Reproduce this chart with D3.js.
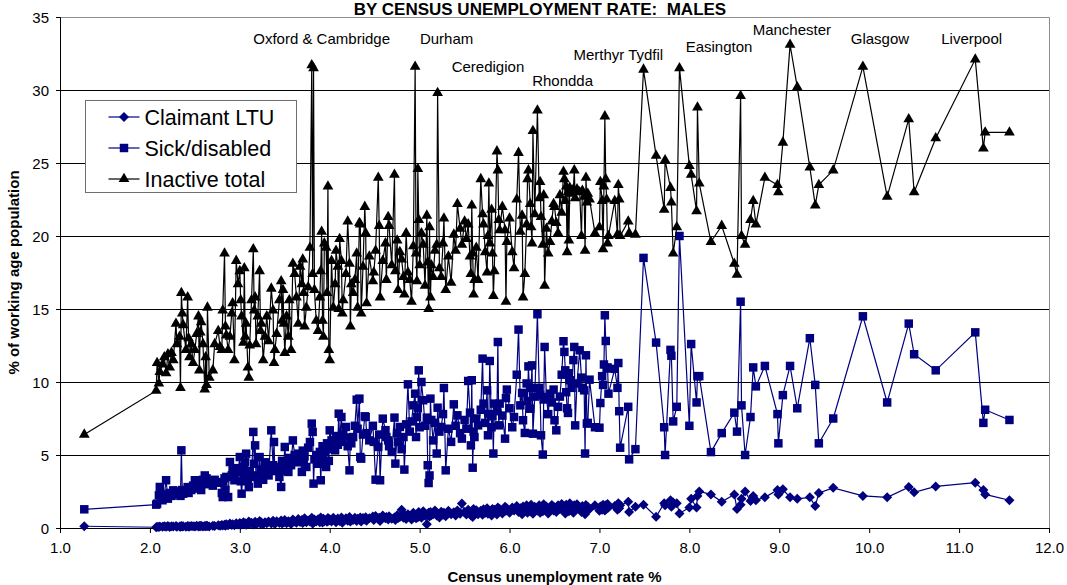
<!DOCTYPE html>
<html>
<head>
<meta charset="utf-8">
<script src="https://cdn.jsdelivr.net/npm/d3@7"></script>
<style>
  html, body { margin: 0; padding: 0; background: #fff; }
  svg { display: block; font-family: "Liberation Sans", Arial, sans-serif; }
</style>
</head>
<body>
<svg id="chart" width="1067" height="585"></svg>
<script>
// census unemployment rate, one value per district (sorted)
const unemp = [
  1.27, 2.07, 2.08, 2.10, 2.11, 2.14, 2.16, 2.18, 2.20, 2.22,
  2.24, 2.26, 2.29, 2.30, 2.33, 2.34, 2.35, 2.36, 2.37, 2.40,
  2.42, 2.43, 2.44, 2.46, 2.48, 2.50, 2.52, 2.54, 2.55, 2.56,
  2.57, 2.59, 2.61, 2.62, 2.63, 2.64, 2.66, 2.70, 2.72, 2.76,
  2.78, 2.80, 2.81, 2.83, 2.84, 2.85, 2.87, 2.89, 2.91, 2.92,
  2.94, 2.96, 2.98, 3.00, 3.01, 3.02, 3.04, 3.05, 3.06, 3.07,
  3.09, 3.10, 3.11, 3.13, 3.15, 3.16, 3.17, 3.18, 3.20, 3.22,
  3.23, 3.24, 3.26, 3.28, 3.30, 3.32, 3.35, 3.37, 3.38, 3.39,
  3.41, 3.44, 3.46, 3.47, 3.48, 3.49, 3.50, 3.52, 3.54, 3.55,
  3.57, 3.59, 3.61, 3.63, 3.65, 3.67, 3.69, 3.70, 3.71, 3.72,
  3.74, 3.76, 3.78, 3.80, 3.81, 3.82, 3.83, 3.85, 3.87, 3.89,
  3.90, 3.91, 3.92, 3.93, 3.94, 3.96, 3.97, 3.98, 3.99, 4.00,
  4.02, 4.04, 4.06, 4.07, 4.09, 4.10, 4.11, 4.13, 4.14, 4.15,
  4.18, 4.20, 4.22, 4.23, 4.24, 4.26, 4.28, 4.30, 4.31, 4.33,
  4.34, 4.35, 4.37, 4.39, 4.40, 4.41, 4.44, 4.48, 4.49, 4.51,
  4.54, 4.55, 4.56, 4.59, 4.62, 4.63, 4.65, 4.66, 4.69, 4.72,
  4.73, 4.75, 4.76, 4.78, 4.80, 4.82, 4.83, 4.85, 4.87, 4.89,
  4.91, 4.93, 4.95, 4.96, 4.97, 4.98, 4.99, 5.00, 5.02, 5.04,
  5.06, 5.08, 5.09, 5.10, 5.11, 5.12, 5.13, 5.15, 5.17, 5.19,
  5.20, 5.22, 5.24, 5.26, 5.27, 5.29, 5.32, 5.35, 5.38, 5.40,
  5.42, 5.45, 5.47, 5.50, 5.52, 5.54, 5.56, 5.57, 5.58, 5.59,
  5.60, 5.61, 5.63, 5.65, 5.68, 5.70, 5.71, 5.73, 5.75, 5.76,
  5.77, 5.78, 5.80, 5.81, 5.82, 5.83, 5.86, 5.87, 5.88, 5.89,
  5.92, 5.95, 5.96, 5.97, 6.00, 6.03, 6.05, 6.08, 6.10, 6.12,
  6.14, 6.15, 6.17, 6.19, 6.20, 6.21, 6.23, 6.24, 6.25, 6.26,
  6.28, 6.31, 6.33, 6.34, 6.35, 6.37, 6.38, 6.39, 6.41, 6.43,
  6.45, 6.47, 6.49, 6.50, 6.52, 6.54, 6.56, 6.58, 6.60, 6.61,
  6.62, 6.63, 6.64, 6.65, 6.66, 6.67, 6.69, 6.71, 6.72, 6.73,
  6.75, 6.78, 6.80, 6.81, 6.83, 6.84, 6.85, 6.86, 6.87, 6.89,
  6.95, 7.00, 7.01, 7.03, 7.04, 7.05, 7.06, 7.07, 7.08, 7.09,
  7.10, 7.17, 7.20, 7.21, 7.22, 7.23, 7.32, 7.33, 7.40, 7.49,
  7.63, 7.72, 7.73, 7.79, 7.80, 7.82, 7.86, 7.89, 8.00, 8.02,
  8.08, 8.09, 8.11, 8.24, 8.36, 8.50, 8.53, 8.57, 8.58, 8.62,
  8.68, 8.71, 8.74, 8.84, 8.98, 8.99, 9.04, 9.12, 9.20, 9.34,
  9.40, 9.44, 9.60, 9.93, 10.20, 10.44, 10.50, 10.74, 11.18, 11.27, 11.29, 11.56
];

const claimantLTU = [
  0.12, 0.05, 0.08, 0.06, 0.10, 0.09, 0.12, 0.08, 0.14, 0.07,
  0.12, 0.10, 0.13, 0.09, 0.11, 0.08, 0.14, 0.10, 0.12, 0.09,
  0.13, 0.11, 0.10, 0.14, 0.12, 0.11, 0.15, 0.10, 0.13, 0.12,
  0.16, 0.11, 0.14, 0.12, 0.15, 0.13, 0.10, 0.16, 0.14, 0.18,
  0.15, 0.20, 0.17, 0.22, 0.16, 0.25, 0.18, 0.30, 0.21, 0.26,
  0.19, 0.32, 0.24, 0.35, 0.20, 0.28, 0.40, 0.25, 0.33, 0.22,
  0.30, 0.45, 0.27, 0.36, 0.24, 0.31, 0.42, 0.26, 0.34, 0.48,
  0.29, 0.38, 0.25, 0.40, 0.33, 0.44, 0.30, 0.50, 0.36, 0.28,
  0.46, 0.34, 0.52, 0.30, 0.42, 0.38, 0.55, 0.33, 0.47, 0.40,
  0.28, 0.58, 0.45, 0.36, 0.62, 0.41, 0.55, 0.35, 0.48, 0.66,
  0.39, 0.52, 0.44, 0.70, 0.30, 0.36, 0.58, 0.45, 0.60, 0.40,
  0.72, 0.50, 0.38, 0.63, 0.47, 0.55, 0.42, 0.68, 0.50, 0.60,
  0.45, 0.70, 0.52, 0.40, 0.65, 0.55, 0.48, 0.72, 0.36, 0.58,
  0.66, 0.50, 0.75, 0.44, 0.62, 0.55, 0.70, 0.48, 0.64, 0.56,
  0.72, 0.45, 0.68, 0.58, 0.74, 0.50, 0.66, 0.78, 0.55, 0.82,
  0.62, 0.70, 0.48, 0.85, 0.66, 0.76, 0.58, 0.80, 0.64, 0.72,
  0.55, 0.88, 0.68, 0.75, 1.25, 0.70, 0.90, 0.62, 0.95, 0.78,
  0.58, 1.05, 0.82, 0.66, 0.92, 0.74, 1.10, 0.80, 0.70, 1.15,
  0.85, 0.25, 0.90, 1.05, 0.78, 1.10, 0.88, 0.95, 1.20, 0.85,
  1.00, 0.72, 1.12, 0.90, 1.05, 0.80, 1.18, 0.95, 1.08, 0.85,
  1.20, 0.98, 1.67, 1.10, 0.92, 1.25, 1.05, 0.88, 1.15, 0.75,
  1.30, 1.00, 1.22, 0.95, 1.18, 0.90, 1.28, 1.05, 1.35, 0.98,
  1.20, 1.10, 0.85, 1.30, 1.08, 1.25, 0.92, 1.40, 1.12, 1.30,
  1.00, 1.45, 1.18, 1.35, 1.05, 1.40, 1.20, 1.50, 1.10, 1.35,
  0.95, 1.48, 1.22, 1.55, 1.05, 1.40, 1.15, 1.60, 1.30, 0.98,
  1.45, 1.20, 1.55, 1.05, 1.38, 1.15, 1.62, 1.25, 1.48, 1.00,
  1.35, 1.58, 1.20, 1.42, 1.10, 1.55, 1.30, 1.65, 1.18, 1.45,
  1.00, 1.60, 1.25, 1.50, 1.15, 1.70, 1.35, 1.05, 1.55, 1.25,
  1.62, 1.40, 1.10, 1.50, 1.28, 0.95, 1.58, 1.20, 1.45, 1.30,
  1.55, 1.18, 1.48, 1.25, 1.60, 1.40, 1.20, 1.55, 1.32, 1.65,
  1.40, 1.50, 1.25, 1.70, 1.35, 1.55, 1.80, 1.10, 1.45, 1.60,
  0.77, 1.70, 1.55, 1.90, 1.45, 1.75, 1.70, 1.00, 1.40, 2.00,
  1.40, 2.20, 2.50, 2.30, 1.80, 2.30, 1.30, 1.60, 2.00, 2.50,
  1.85, 2.20, 1.90, 2.10, 2.60, 2.30, 2.65, 2.10, 2.00, 2.10,
  1.50, 2.40, 2.75, 2.20, 2.10, 2.80, 2.45, 2.85, 3.10, 2.60, 2.30, 1.90
];

const sickDisabled = [
  1.28, 1.6, 1.67, 2.24, 2.81, 1.9, 2.3, 3.27, 2.01, 2.4,
  2.2, 2.58, 2.5, 2.3, 2.45, 2.2, 5.32, 2.6, 2.35, 2.5,
  2.8, 2.4, 2.7, 2.6, 2.9, 3.27, 2.7, 3.0, 2.92, 3.1,
  2.6, 3.3, 3.6, 3.0, 3.4, 3.2, 3.15, 2.9, 3.3, 3.1,
  3.15, 2.4, 2.12, 3.4, 2.6, 3.5, 2.12, 4.52, 3.6, 3.95,
  3.27, 4.1, 3.8, 4.86, 3.2, 2.35, 4.2, 3.7, 4.5, 5.09,
  3.3, 2.8, 3.9, 3.5, 6.58, 4.4, 5.66, 3.6, 3.04, 4.86,
  4.0, 3.7, 3.3, 4.5, 4.06, 3.6, 6.69, 4.3, 5.89, 3.9,
  4.18, 3.5, 2.81, 4.6, 3.9, 4.4, 5.55, 4.1, 3.84, 4.8,
  4.3, 6.0, 5.0, 4.5, 5.09, 4.7, 3.84, 5.3, 4.6, 4.9,
  4.18, 5.5, 5.89, 7.15, 6.58, 3.04, 4.7, 5.0, 4.4, 5.21,
  3.27, 4.9, 5.6, 4.5, 5.2, 4.18, 5.8, 5.4, 4.6, 6.69,
  6.0, 5.5, 5.32, 6.3, 5.7, 7.83, 6.1, 7.6, 5.9, 6.4,
  6.92, 5.6, 3.95, 6.2, 5.8, 6.23, 7.0, 8.79, 6.8, 8.86,
  4.86, 4.75, 6.4, 7.65, 7.6, 6.5, 6.0, 7.0, 5.9, 3.31,
  5.55, 6.4, 3.27, 7.49, 6.7, 6.23, 6.0, 5.6, 5.21, 7.56,
  4.41, 6.5, 5.9, 6.92, 5.4, 6.23, 4.0, 7.1, 9.84, 6.6,
  7.3, 8.4, 9.2, 6.23, 7.6, 8.2, 10.8, 6.9, 10.0, 8.75,
  7.0, 7.56, 4.3, 3.08, 3.6, 8.86, 7.4, 6.0, 7.2, 5.1,
  8.24, 6.6, 6.92, 7.8, 9.59, 3.95, 6.8, 5.9, 8.47, 7.0,
  7.72, 6.5, 6.12, 7.4, 6.8, 10.07, 7.9, 5.66, 10.12, 4.13,
  6.6, 6.23, 7.5, 7.03, 8.1, 11.6, 8.52, 7.2, 9.43, 6.35,
  7.8, 11.44, 6.9, 7.65, 5.1, 8.52, 8.0, 12.74, 7.03, 8.52,
  7.7, 6.12, 8.9, 9.48, 8.2, 6.9, 7.6, 10.5, 13.59, 8.4,
  9.25, 7.38, 6.51, 9.9, 8.7, 11.07, 8.17, 9.6, 11.14, 6.46,
  9.0, 14.64, 9.6, 9.09, 6.35, 5.03, 8.8, 12.4, 8.97, 7.8,
  9.2, 8.6, 9.48, 7.38, 6.69, 8.3, 9.0, 10.5, 12.79, 12.06,
  10.8, 9.3, 8.2, 7.88, 10.6, 10.12, 9.6, 11.5, 12.4, 7.03,
  9.9, 12.17, 10.3, 9.6, 9.43, 5.1, 11.83, 7.15, 7.2, 10.16,
  6.9, 6.87, 8.56, 10.4, 9.8, 11.2, 14.57, 12.81, 10.92, 11.0,
  9.2, 10.9, 9.6, 11.3, 8.0, 5.5, 8.3, 4.7, 5.4, 18.5,
  12.7, 6.9, 5.0, 12.2, 11.8, 7.3, 8.3, 20.0, 7.0, 12.6,
  8.6, 10.4, 10.4, 5.2, 6.5, 7.9, 6.6, 15.5, 8.4, 5.0,
  7.6, 11.0, 9.7, 11.1, 7.8, 5.8, 9.1, 11.1, 8.2, 13.0,
  9.8, 5.8, 7.5, 14.5, 8.6, 14.0, 11.9, 10.8, 13.4, 7.2, 8.1, 7.4
];

const inactiveTotal = [
  6.4, 9.4, 11.3, 9.9, 10.7, 11.2, 11.7, 10.6, 11.9, 11.0,
  12.0, 11.5, 14.0, 12.6, 13.1, 9.6, 16.1, 14.7, 13.9, 12.2,
  15.8, 13.0, 11.7, 12.6, 11.3, 12.2, 13.3, 14.5, 10.8, 13.4,
  14.1, 12.6, 9.5, 11.7, 9.8, 15.1, 10.3, 10.8, 12.6, 13.5,
  12.4, 12.2, 14.9, 18.8, 13.8, 13.2, 12.2, 13.1, 14.7, 15.4,
  11.5, 18.3, 16.7, 17.6, 15.6, 14.5, 12.7, 17.8, 13.1, 14.0,
  11.0, 10.3, 12.5, 15.6, 19.1, 14.9, 15.8, 12.6, 14.5, 17.6,
  13.5, 14.0, 11.5, 13.1, 14.5, 12.8, 16.4, 14.9, 11.3, 12.2,
  13.3, 15.6, 16.9, 14.2, 16.3, 14.0, 12.0, 14.5, 13.1, 15.6,
  12.2, 18.1, 17.4, 15.8, 14.0, 17.9, 16.7, 18.4, 16.1, 13.8,
  15.1, 16.5, 19.2, 31.7, 17.4, 31.5, 16.3, 14.2, 13.5, 15.8,
  17.6, 20.3, 14.2, 13.1, 19.5, 19.2, 16.1, 23.4, 12.2, 11.5,
  18.3, 15.1, 16.7, 19.0, 17.9, 15.0, 19.8, 18.3, 14.7, 15.6,
  17.4, 21.0, 18.1, 13.8, 16.7, 16.1, 17.0, 18.8, 15.1, 20.9,
  20.8, 14.7, 17.9, 22.0, 20.2, 15.4, 18.6, 16.9, 17.5, 19.0,
  24.0, 20.7, 15.8, 18.3, 19.5, 17.0, 21.3, 20.7, 18.0, 24.2,
  17.6, 19.7, 16.3, 18.9, 18.4, 17.2, 16.0, 20.2, 17.5, 17.0,
  15.5, 19.3, 31.6, 18.8, 16.9, 24.6, 21.1, 18.0, 20.2, 19.4,
  16.6, 21.4, 18.2, 15.0, 20.6, 15.8, 18.0, 17.2, 19.0, 19.4,
  29.8, 17.8, 17.2, 19.5, 21.2, 16.3, 18.6, 16.8, 20.1, 19.0,
  22.2, 20.5, 19.4, 21.0, 19.8, 20.8, 18.6, 17.4, 22.1, 18.8,
  16.0, 17.0, 19.2, 17.0, 23.9, 21.5, 20.8, 18.9, 17.5, 20.0,
  23.6, 19.5, 21.8, 18.8, 15.9, 17.6, 25.8, 24.5, 21.1, 20.4,
  22.0, 20.4, 15.5, 19.6, 21.2, 18.9, 17.8, 22.5, 25.7, 20.3,
  21.4, 15.8, 17.4, 20.8, 23.9, 24.5, 22.2, 20.6, 19.5, 27.2,
  21.5, 28.6, 22.6, 23.7, 21.3, 19.4, 22.8, 16.6, 20.5, 18.8,
  19.6, 21.0, 22.2, 22.0, 20.9, 20.2, 22.8, 21.6, 24.4, 23.9,
  22.4, 23.4, 18.9, 23.0, 19.7, 23.3, 22.9, 23.2, 24.5, 22.6,
  23.2, 23.0, 20.0, 23.1, 22.7, 19.0, 24.0, 22.3, 22.9, 22.5,
  20.2, 20.6, 23.7, 22.4, 19.1, 23.4, 28.2, 23.9, 22.5, 19.5,
  20.0, 22.4, 20.1, 23.5, 22.5, 20.0, 21.0, 20.2, 20.1, 31.4,
  25.5, 21.8, 25.2, 23.3, 22.3, 18.8, 20.6, 31.5, 24.8, 24.2,
  21.7, 28.8, 23.6, 19.6, 20.7, 18.1, 17.35, 29.6, 20.0, 19.4,
  21.1, 22.4, 20.8, 24.0, 23.5, 23.0, 26.4, 33.1, 30.2, 24.7,
  22.1, 23.5, 24.5, 31.6, 22.7, 28.0, 23.0, 26.7, 32.1, 26.0, 27.1, 27.1
];

const seriesNames = ["Claimant LTU", "Sick/disabled", "Inactive total"];
const xTicks = [1, 2, 3, 4, 5, 6, 7, 8, 9, 10, 11, 12];
const yTicks = [0, 5, 10, 15, 20, 25, 30, 35];

// place names written above the peaks
const cityNames = ["Oxford & Cambridge", "Durham", "Ceredigion", "Rhondda", "Merthyr Tydfil",
                   "Easington", "Manchester", "Glasgow", "Liverpool"];
const cityX = [3.91, 5.30, 5.76, 6.59, 7.21, 8.33, 9.14, 10.12, 11.14];
const cityY = [33.15, 33.15, 31.25, 30.29, 32.05, 32.58, 33.77, 33.15, 33.15];

const margin = { top: 17, right: 18, bottom: 57, left: 60 };
const W = 1067, H = 585;
const w = W - margin.left - margin.right,
      h = H - margin.top - margin.bottom;

const navy = "#000080";

const svg = d3.select("#chart");
const g = svg.append("g")
    .attr("transform", "translate(" + margin.left + "," + margin.top + ")");

const x = d3.scaleLinear().domain([1, 12]).range([0, w]);
const y = d3.scaleLinear().domain([0, 35]).range([h, 0]);

// title, right at the top edge
svg.append("text")
    .attr("x", 540).attr("y", 14.5)
    .attr("text-anchor", "middle")
    .style("font-weight", "bold").style("font-size", "17px")
    .style("white-space", "pre")
    .text("BY CENSUS UNEMPLOYMENT RATE:  MALES");

// gridlines
g.append("g")
    .selectAll("line")
    .data(yTicks.filter(d => d > 0 && d < 35)).enter()
    .append("line")
    .attr("x1", 0).attr("x2", w)
    .attr("y1", d => Math.round(y(d)) + 0.5).attr("y2", d => Math.round(y(d)) + 0.5)
    .attr("stroke", "#000").attr("stroke-width", 1);

// plot border top + right
g.append("path")
    .attr("d", "M0," + (Math.round(y(35)) + 0.5) + "H" + (Math.round(w) + 0.5) + "V" + h)
    .attr("fill", "none").attr("stroke", "#8c8c8c").attr("stroke-width", 1);

const axisY = d3.axisLeft(y).tickValues(yTicks).tickSize(4).tickPadding(7).tickFormat(d3.format("d"));
const axisX = d3.axisBottom(x).tickValues(xTicks).tickSize(5).tickPadding(9).tickFormat(d3.format(".1f"));

const gy = g.append("g").call(axisY);
const gx = g.append("g").attr("transform", "translate(0," + h + ")").call(axisX);
[gx, gy].forEach(a => {
    a.selectAll("text").style("font-size", "15px").attr("fill", "#000")
        .style("font-family", "'Liberation Sans', Arial, sans-serif");
    a.selectAll("line").attr("stroke", "#000");
    a.select(".domain").attr("stroke", "#000");
});
gy.selectAll("text").attr("dy", "0.36em");

// axis titles
svg.append("text")
    .attr("x", margin.left + w / 2).attr("y", 582)
    .attr("text-anchor", "middle")
    .style("font-weight", "bold").style("font-size", "15px")
    .text("Census unemployment rate %");

svg.append("text")
    .attr("transform", "translate(19," + (margin.top + h / 2) + ") rotate(-90)")
    .attr("text-anchor", "middle")
    .style("font-weight", "bold").style("font-size", "15px")
    .text("% of working age population");

const rows = d3.range(unemp.length).map(i => ({
    u: unemp[i], ltu: claimantLTU[i], sick: sickDisabled[i], inact: inactiveTotal[i]
}));

const diamond = d3.symbol().type(d3.symbolSquare).size(50)();
const square = d3.symbol().type(d3.symbolSquare).size(72)();
const triangle = d3.symbol().type(d3.symbolTriangle).size(50)();

const series = [
    { key: "ltu", color: navy, shape: diamond, rot: 45 },
    { key: "sick", color: navy, shape: square, rot: 0 },
    { key: "inact", color: "#000", shape: triangle, rot: 0 }
];

series.forEach(s => {
    const line = d3.line().x(d => x(d.u)).y(d => y(d[s.key]));
    const sg = g.append("g");
    sg.append("path")
        .datum(rows)
        .attr("d", line)
        .attr("fill", "none")
        .attr("stroke", s.color)
        .attr("stroke-width", 1.2);
    sg.selectAll("path.m")
        .data(rows).enter()
        .append("path")
        .attr("class", "m")
        .attr("d", s.shape)
        .attr("transform", d => "translate(" + x(d.u) + "," + y(d[s.key]) + ") rotate(" + s.rot + ")")
        .attr("fill", s.color);
});

// place labels
g.append("g")
    .selectAll("text")
    .data(cityNames).enter()
    .append("text")
    .attr("x", (d, i) => x(cityX[i]))
    .attr("y", (d, i) => y(cityY[i]))
    .attr("text-anchor", "middle")
    .style("font-size", "15px")
    .text(d => d);

// legend
const legend = svg.append("g").attr("transform", "translate(85.5,100.5)");
legend.append("rect")
    .attr("width", 211).attr("height", 92)
    .attr("fill", "#fff").attr("stroke", "#6e6e6e").attr("stroke-width", 1);

seriesNames.forEach((name, i) => {
    const s = series[i];
    const ly = 16.5 + i * 31;
    const it = legend.append("g").attr("transform", "translate(0," + ly + ")");
    it.append("line")
        .attr("x1", 23).attr("x2", 54).attr("y1", 0).attr("y2", 0)
        .attr("stroke", s.color).attr("stroke-width", 1.2);
    it.append("path")
        .attr("d", s.shape)
        .attr("transform", "translate(38.5,0) rotate(" + s.rot + ")")
        .attr("fill", s.color);
    it.append("text")
        .attr("x", 59).attr("y", 7.7)
        .style("font-size", "21.5px")
        .text(name);
});
</script>
</body>
</html>
